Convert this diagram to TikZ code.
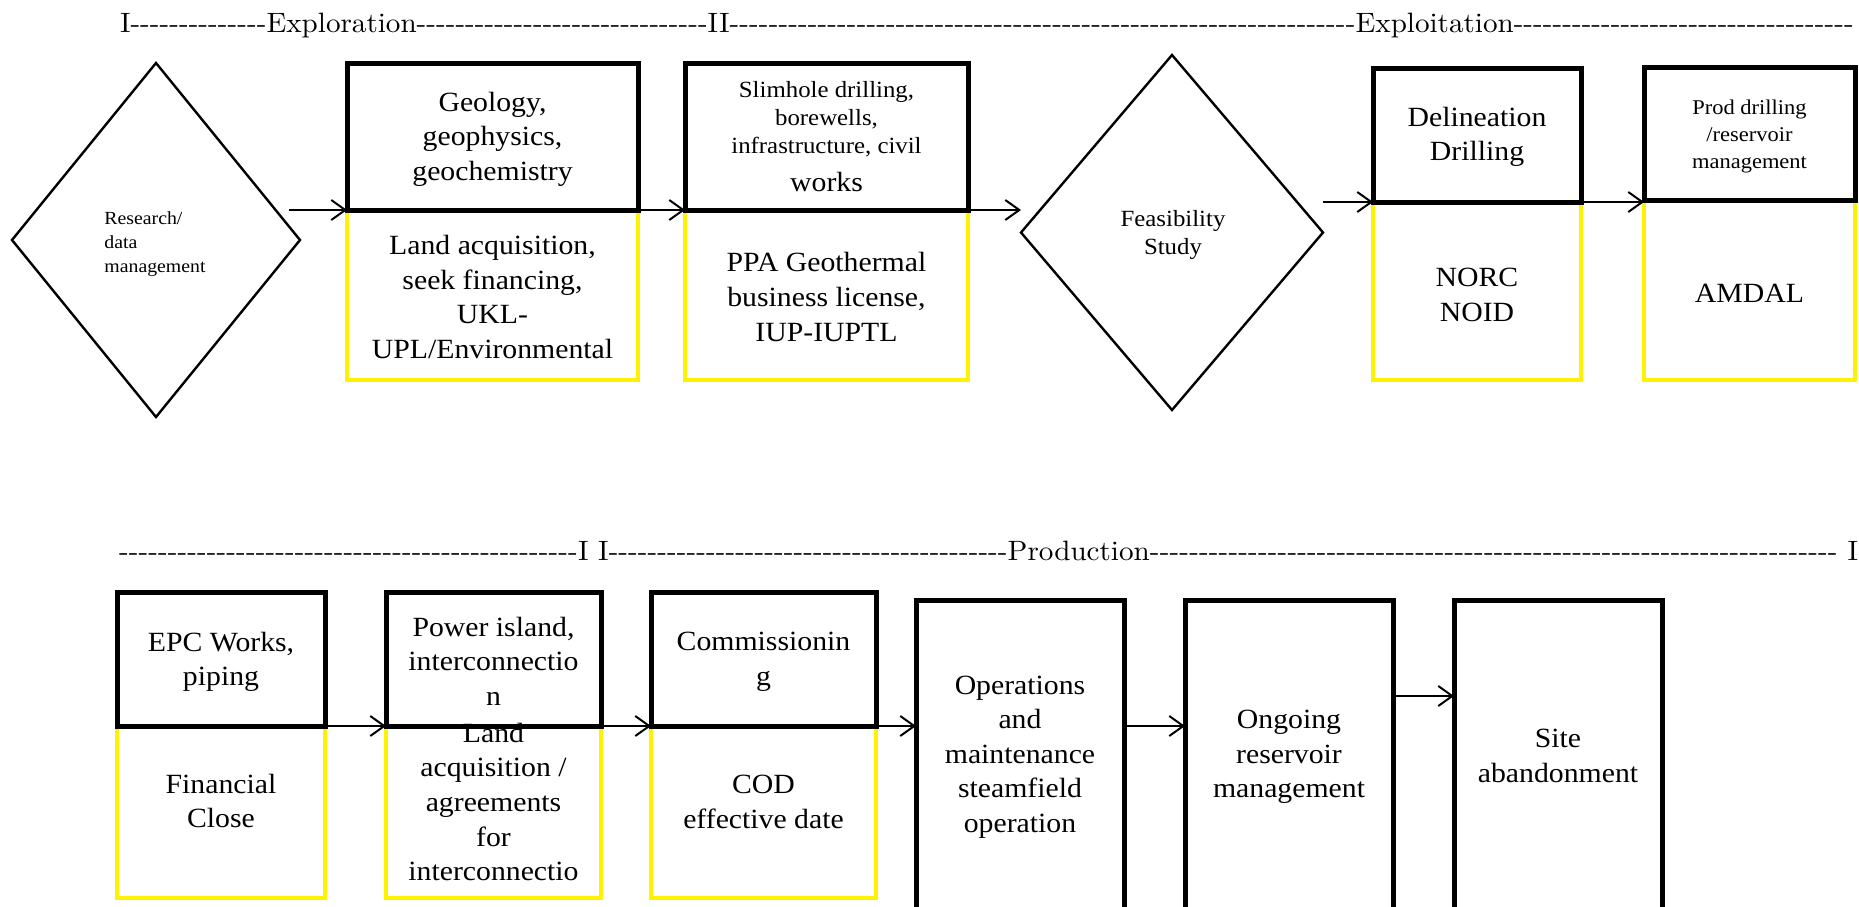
\documentclass[tikz,border=0pt]{standalone}
\usepackage{fontspec}
\setmainfont{Liberation Serif}[FakeStretch=1.07]
\newfontfamily\hdrfont{lmroman10-regular.otf}[FakeStretch=1.04]
\usetikzlibrary{shapes.geometric,arrows.meta}

% a run of hyphens filling a given width
\newcommand\dashrun[1]{\hbox to #1{\xleaders\hbox{-}\hfill}}
\newcommand\fsz[2]{\fontsize{#1}{#2}\selectfont}

\tikzset{
  blk/.style={draw=black, line width=2.5pt, outer sep=0pt, inner sep=0pt},
  ylw/.style={draw=yellow, line width=2pt, outer sep=0pt, inner sep=0pt},
  dia/.style={draw=black, diamond, line width=1.2pt, outer sep=0pt, inner sep=0pt},
  arr/.style={line width=1pt, -{Straight Barb[length=7pt,width=10pt]}},
  txt/.style={align=center, inner sep=0pt, font=\fsz{13.9}{17.3}},
  hdr/.style={inner sep=0pt, outer sep=0pt, anchor=base west, font=\hdrfont\fsz{14}{16}},
}

\begin{document}
\begin{tikzpicture}[x=0.5pt, y=-0.5pt]
\useasboundingbox (0,0) rectangle (1859,906);
\clip (0,0) rectangle (1859,906);

% ---------- phase headers ----------
\node[hdr] (hI1) at (120,32) {I};
\node[hdr] (hd1) at (hI1.base east) {\dashrun{68pt}};
\node[hdr] (hExpl) at (hd1.base east) {Exploration};
\node[hdr] (hd2) at (hExpl.base east) {\dashrun{145.5pt}};
\node[hdr] (hII) at (hd2.base east) {II};
\node[hdr] (hd3) at (hII.base east) {\dashrun{313pt}};
\node[hdr] (hExploit) at (hd3.base east) {Exploitation};
\node[hdr] (hd4) at (hExploit.base east) {\dashrun{170pt}};

\node[hdr] (hd5) at (119,560) {\dashrun{229.5pt}};
\node[hdr] (hII2) at (hd5.base east) {I I};
\node[hdr] (hd6) at (hII2.base east) {\dashrun{199.5pt}};
\node[hdr] (hProd) at (hd6.base east) {Production};
\node[hdr] (hd7) at (hProd.base east) {\dashrun{344pt}};
\node[hdr] (hEnd) at (hd7.base east) {\ I};

% ---------- top row: approvals (yellow) ----------
\node[ylw, minimum width=145.5pt, minimum height=85pt] (geoY) at (492.5,295) {};
\node[ylw, minimum width=141.5pt, minimum height=85pt] (slimY) at (826.5,295) {};
\node[ylw, minimum width=104pt, minimum height=89pt] (delY) at (1477,291) {};
\node[ylw, minimum width=105.5pt, minimum height=90pt] (prodY) at (1749.5,290) {};

\node[txt] (tgeoY) at (492.5,297) {Land acquisition,\\seek financing,\\UKL-\\UPL/Environmental};
\node[txt] (tslimY) at (826.5,297) {PPA Geothermal\\business license,\\IUP-IUPTL};
\node[txt] (tdelY) at (1477,295) {NORC\\NOID};
\node[txt] (tprodY) at (1749.5,293) {AMDAL};

% ---------- top row: activities (black) ----------
\node[blk, minimum width=145.5pt, minimum height=73.5pt] (geo) at (492.5,136.5) {};
\node[blk, minimum width=141.5pt, minimum height=73.5pt] (slim) at (826.5,136.5) {};
\node[blk, minimum width=104pt, minimum height=67pt] (del) at (1477,135) {};
\node[blk, minimum width=105.5pt, minimum height=66.5pt] (prod) at (1749.5,133.5) {};

\node[txt] (tgeo) at (492.5,139) {Geology,\\geophysics,\\geochemistry};
\node[txt, font=\fsz{11.6}{14}] (tslimA) at (826.5,119) {Slimhole drilling,\\borewells,\\infrastructure, civil};
\node[txt] (tslimB) at (826.5,182) {works};
\node[txt] (tdel) at (1477,137) {Delineation\\Drilling};
\node[txt, font=\fsz{10.5}{13.5}] (tprod) at (1749.5,136) {Prod drilling\\/reservoir\\management};

% ---------- decisions ----------
\node[dia, minimum width=144pt, minimum height=177pt] (d1) at (156,240) {};
\node[align=left, inner sep=0pt, font=\fsz{9.25}{12}] (td1) at (155,244) {Research/\\data\\management};
\node[dia, minimum width=151pt, minimum height=177.5pt] (d2) at (1172,232.5) {};
\node[txt, font=\fsz{11.6}{14}] (td2) at (1173,235) {Feasibility\\Study};

% ---------- bottom row: yellow ----------
\node[ylw, minimum width=104pt, minimum height=86pt] (epcY) at (221,812) {};
\node[ylw, minimum width=107.5pt, minimum height=86pt] (powY) at (493.5,812) {};
\node[ylw, minimum width=112.5pt, minimum height=86pt] (comY) at (763.5,812) {};

\node[txt] (tepcY) at (221,801) {Financial\\Close};
\node[txt] (tpowY) at (493.5,802) {Land\\acquisition /\\agreements\\for\\interconnectio};
\node[txt] (tcomY) at (763.5,802) {COD\\effective date};

% ---------- bottom row: black ----------
\node[blk, minimum width=104pt, minimum height=67pt] (epc) at (221,659) {};
\node[blk, minimum width=107.5pt, minimum height=67pt] (pow) at (493.5,659) {};
\node[blk, minimum width=112.5pt, minimum height=67pt] (com) at (763.5,659) {};
\node[blk, minimum width=104pt, minimum height=180pt] (ops) at (1020,780) {};
\node[blk, minimum width=104pt, minimum height=180pt] (ong) at (1289,780) {};
\node[blk, minimum width=104pt, minimum height=180pt] (site) at (1558,780) {};

\node[txt] (tepc) at (221,662) {EPC Works,\\piping};
\node[txt] (tpow) at (493.5,661) {Power island,\\interconnectio\\n};
\node[txt] (tcom) at (763.5,662) {Commissionin\\g};
\node[txt] (tops) at (1020,757) {Operations\\and\\maintenance\\steamfield\\operation};
\node[txt] (tong) at (1289,757) {Ongoing\\reservoir\\management};
\node[txt] (tsite) at (1558,756) {Site\\abandonment};

% ---------- connectors ----------
\coordinate (a1s) at (289,210);
\draw[arr] (a1s) -- (geo.south west);
\draw[arr] (geo.south east) -- (slim.south west);
\draw[arr] (slim.south east) -- (slim.south east -| d2.west);
\draw[arr] (d2.east |- del.south west) -- (del.south west);
\draw[arr] (del.south east) -- (del.south east -| prod.west);

\draw[arr] (epc.south east) -- (pow.south west);
\draw[arr] (pow.south east) -- (com.south west);
\draw[arr] (com.south east) -- (com.south east -| ops.west);
\draw[arr] (ops.east |- com.south east) -- (ong.west |- com.south east);
\coordinate (a9) at (1393,696);
\draw[arr] (ong.east |- a9) -- (site.west |- a9);
\end{tikzpicture}
\end{document}
